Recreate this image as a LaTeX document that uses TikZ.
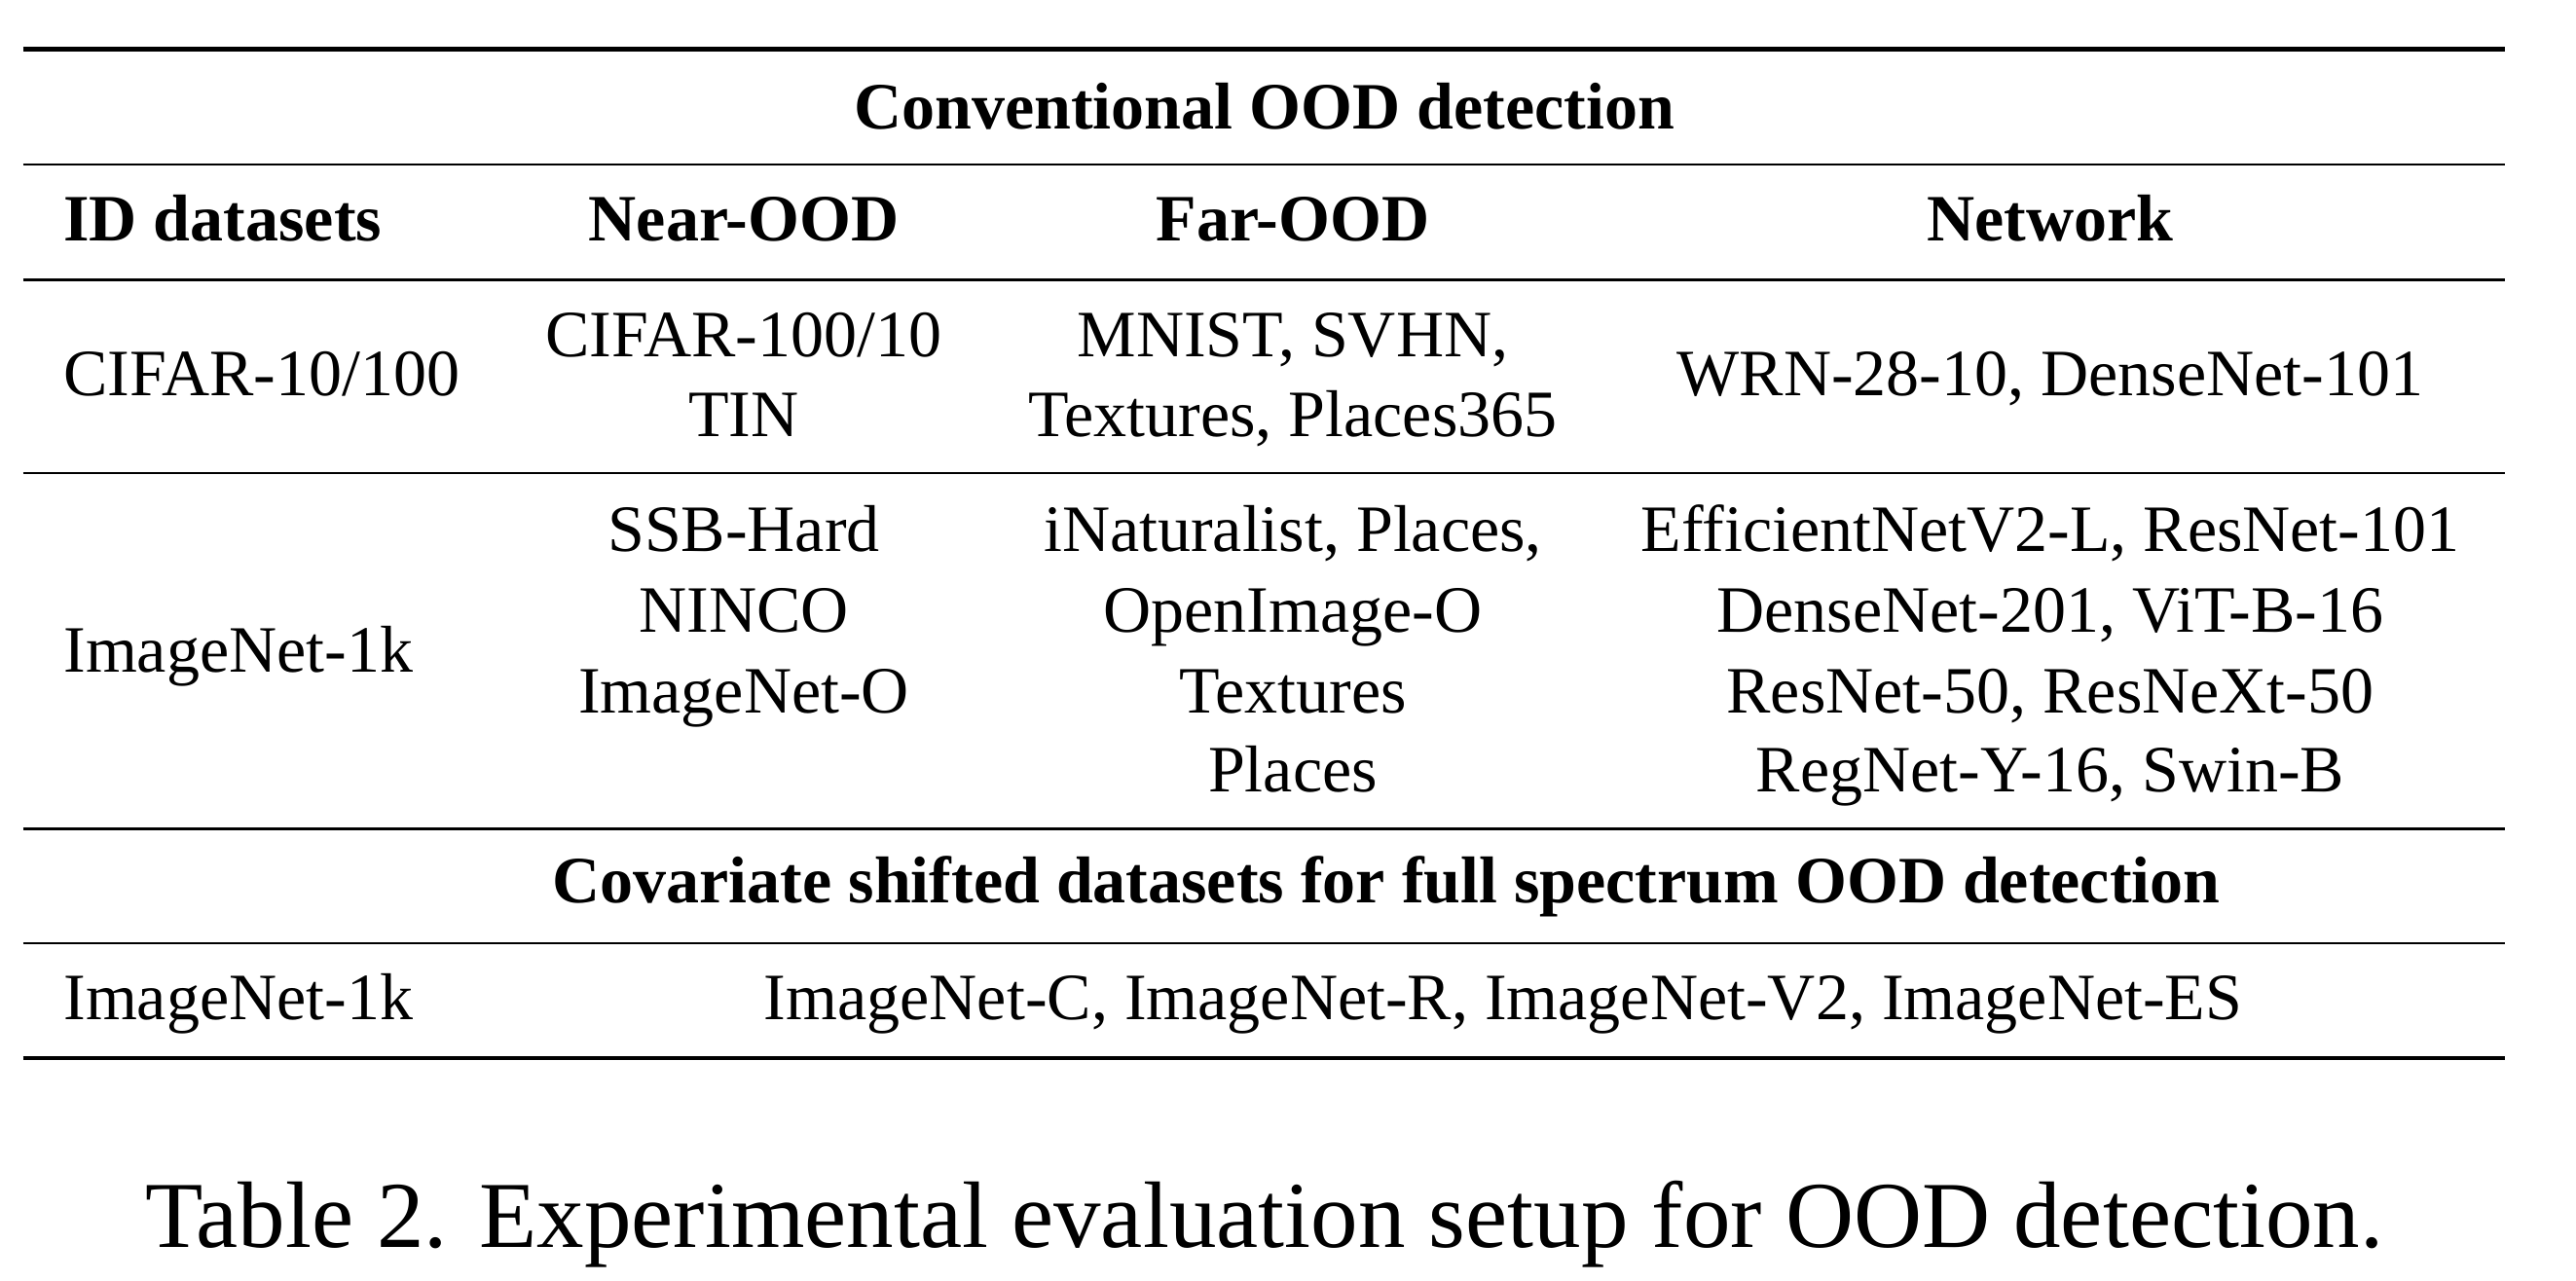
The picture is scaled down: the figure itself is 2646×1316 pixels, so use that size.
\documentclass[tikz,border=0pt]{standalone}
\usepackage{fontspec}
\setmainfont{Liberation Serif}
\begin{document}
\begin{tikzpicture}[x=0.5pt,y=-0.5pt,
  cell/.style={anchor=base,inner sep=0pt,font=\fontsize{34}{41}\selectfont},
  lcell/.style={cell,anchor=base west},
  hcell/.style={cell,font=\fontsize{34}{41}\selectfont\bfseries},
  caption/.style={anchor=base,inner sep=0pt,font=\fontsize{48.5}{58}\selectfont},
  thickrule/.style={line width=2.1pt},
  thinrule/.style={line width=1.3pt}]
\useasboundingbox (0,0) rectangle (2646,1316);
% rules
\draw[thickrule] (23.6,50.5) -- (2573,50.5);
\draw[thinrule] (23.6,169.2) -- (2573,169.2);
\draw[thinrule] (23.6,287.5) -- (2573,287.5);
\draw[thinrule] (23.6,486) -- (2573,486);
\draw[thinrule] (23.6,851.5) -- (2573,851.5);
\draw[thinrule] (23.6,968.8) -- (2573,968.8);
\draw[thickrule] (23.6,1086.8) -- (2573,1086.8);
% header
\node[hcell] (conv) at (1298.6,132.6) {Conventional OOD detection};
\node[hcell,anchor=base west] (hid) at (65,248) {ID datasets};
\node[hcell] (hnear) at (764,248) {Near-OOD};
\node[hcell] (hfar) at (1328,248) {Far-OOD};
\node[hcell] (hnet) at (2106,248) {Network};
% CIFAR row
\node[lcell] (cid) at (65,407) {CIFAR-10/100};
\node[cell] (cn1) at (764,366) {CIFAR-100/10};
\node[cell] (cn2) at (764,448) {TIN};
\node[cell] (cf1) at (1328,366) {MNIST, SVHN,};
\node[cell] (cf2) at (1328,448) {Textures, Places365};
\node[cell] (cnet) at (2106,407) {WRN-28-10, DenseNet-101};
% ImageNet row
\node[lcell] (iid) at (65,690) {ImageNet-1k};
\node[cell] (in1) at (764,566) {SSB-Hard};
\node[cell] (in2) at (764,649) {NINCO};
\node[cell] (in3) at (764,732) {ImageNet-O};
\node[cell] (if1) at (1328,566) {iNaturalist, Places,};
\node[cell] (if2) at (1328,649) {OpenImage-O};
\node[cell] (if3) at (1328,732) {Textures};
\node[cell] (if4) at (1328,813) {Places};
\node[cell] (inet1) at (2106,566) {EfficientNetV2-L, ResNet-101};
\node[cell] (inet2) at (2106,649) {DenseNet-201, ViT-B-16};
\node[cell] (inet3) at (2106,732) {ResNet-50, ResNeXt-50};
\node[cell] (inet4) at (2106,813) {RegNet-Y-16, Swin-B};
% covariate
\node[hcell] (cov) at (1424,927) {Covariate shifted datasets for full spectrum OOD detection};
\node[lcell] (fid) at (65,1047) {ImageNet-1k};
\node[cell] (fset) at (1544,1047) {ImageNet-C, ImageNet-R, ImageNet-V2, ImageNet-ES};
% caption
\node[caption] (cap) at (1298.6,1281) {Table 2. Experimental evaluation setup for OOD detection.};
\end{tikzpicture}
\end{document}
